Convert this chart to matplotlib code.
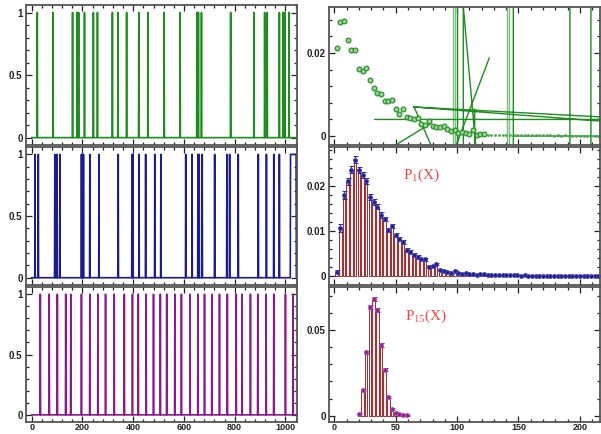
import numpy as np
import matplotlib.pyplot as plt
from matplotlib.ticker import MultipleLocator, FuncFormatter

plt.rcParams['font.family'] = ['Liberation Sans Narrow', 'Liberation Sans', 'DejaVu Sans']

# ---- binary sequences (left column) ----
n_steps = 1046
green_spikes = [22, 84, 161, 179, 185, 208, 243, 259, 318, 340, 374, 422, 458, 522, 585,
                651, 657, 669, 784, 876, 918, 928, 976, 991, 997, 1014]
blue_spikes = [13, 26, 91, 100, 111, 196, 200, 204, 229, 265, 341, 395, 399, 423, 449, 485,
               509, 607, 632, 655, 660, 672, 721, 769, 780, 814, 893, 925, 954, 976]
blue_runs = [(1020, 1042)]
purple_spikes = [34, 69, 101, 134, 154, 196, 229, 261, 291, 325, 365, 397, 420, 451, 480, 507,
                 532, 564, 590, 624, 655, 681, 710, 740, 771, 806, 829, 862, 891, 924, 954,
                 1000, 1030]

# ---- distributions (right column) ----
# top-right: green points
g_x = list(range(2, 123, 3))
g_y = [0.02119, 0.02751, 0.02782, 0.02311, 0.02063, 0.02079, 0.01624, 0.01576, 0.0164,
       0.01344, 0.01152, 0.01032, 0.01008, 0.00848, 0.00856, 0.0088, 0.00648, 0.0052,
       0.0064, 0.00456, 0.00432, 0.004, 0.00432, 0.0028, 0.00264, 0.00352, 0.00233,
       0.00217, 0.00209, 0.00249, 0.00177, 0.00113, 0.00145, 0.00081, 0.00105, 0.00081,
       0.00049, 0.00137, 0.00025, 0.00057, 0.00057]
g_tail_x = list(range(125, 216, 3))
g_tail_y = [0.0003, 0.00035, 0.0003, 0.00025, 0.0003, 0.00025, 0.0002, 0.00025, 0.0002,
            0.0002, 0.00025, 0.0002, 0.00015, 0.0002, 0.00015, 0.0002, 0.00015, 0.00015,
            0.0001, 0.00015, 0.0001, 0.00015, 0.0001, 0.0001, 0.0001, 0.0001, 0.00008,
            0.0001, 0.00008, 0.00008, 0.00008]
nan = np.nan
glitch_x = [33, 230, nan, 65, 230, nan, 65, 230, nan, 65, 81.5, nan, 48, 78.5, nan,
            97, 126.2, nan, 102.4, 115.7, nan, 100.4, 100.4, nan, 105.1, 105.1, nan,
            114.3, 114.3, nan, 145.8, 145.8, nan, 191.9, 191.9, nan, 209, 209, nan,
            145.8, 230]
glitch_y = [0.004, 0.004, nan, 0.0070, 0.0044, nan, 0.0070, 0.0033, nan, 0.0070, -0.004, nan,
            -0.0025, 0.0030, nan, -0.004, 0.0188, nan, 0.04, -0.004, nan, -0.004, 0.04, nan,
            -0.004, 0.04, nan, -0.004, 0.0065, nan, -0.004, 0.04, nan, -0.004, 0.04, nan,
            -0.004, 0.04, nan, 0.0, 0.0]
glitch_light_x = [96.9, 96.9, nan, 98.3, 98.3, nan, 140.9, 140.9, nan, 142.3, 142.3]
glitch_light_y = [-0.004, 0.04, nan, -0.004, 0.04, nan, -0.004, 0.04, nan, -0.004, 0.04]

# middle-right: P1(X)
p1_x = list(range(2, 216, 3))
p1_y = [0.00102, 0.01062, 0.01794, 0.02102, 0.02358, 0.0258, 0.02344, 0.02234, 0.02102,
        0.0175, 0.0164, 0.01538, 0.01355, 0.01259, 0.01018, 0.01105, 0.00915, 0.0082,
        0.00754, 0.00578, 0.00541, 0.00468, 0.00417, 0.0038, 0.00373, 0.00212, 0.00226,
        0.0027, 0.00138, 0.00124, 0.00102, 0.00073, 0.00109, 0.00073, 0.00051, 0.00066,
        0.00044, 0.00037, 0.0003, 0.00037, 0.00037, 0.0003,
        0.0003, 0.00025, 0.0002, 0.00022, 0.00018, 0.00015, 0.0002, 0.00015, 0.00012,
        0.00015, 0.00012, 0.0001, 0.00012, 0.0001, 0.00008, 0.0001, 0.00008, 0.0001,
        0.00008, 0.00006, 0.00008, 0.00006, 0.00008, 0.00006, 0.00005, 0.00006, 0.00005,
        0.00006, 0.00005, 0.00004]
p1_err = [0.0003, 0.0009, 0.0008, 0.0008, 0.0008, 0.0007, 0.0007, 0.0007, 0.0007, 0.0006,
          0.0006, 0.0006, 0.0006, 0.0005, 0.0005, 0.0005, 0.0005, 0.0005, 0.0004, 0.0004,
          0.0004, 0.0004, 0.0004, 0.0003, 0.0003, 0.0003, 0.0003, 0.0003, 0.0003, 0.0002,
          0.0002, 0.0002, 0.0002, 0.0002, 0.0002, 0.0002, 0.00015, 0.00015, 0.00015,
          0.00015, 0.00015, 0.00015] + [0.0001] * 30

# bottom-right: P15(X)
p15_x = list(range(20, 60, 3))
p15_y = [0.0012, 0.0150, 0.0370, 0.0632, 0.0680, 0.0615, 0.0412, 0.0268, 0.0108, 0.0040,
         0.0017, 0.0012, 0.0005, 0.0003]
p15_err = [0.0004, 0.0008, 0.0010, 0.0012, 0.0013, 0.0012, 0.0010, 0.0009, 0.0006, 0.0004,
           0.0003, 0.0003, 0.0002, 0.0002]

W, H = 601, 434


def box(x0, y0, x1, y1):
    return [x0 / W, 1 - y1 / H, (x1 - x0) / W, (y1 - y0) / H]


def fmt(v, pos):
    return '%g' % round(v, 6)


def style(ax, xmaj, xmin, ymaj, ymin, xlabels):
    ax.xaxis.set_major_locator(MultipleLocator(xmaj))
    ax.xaxis.set_minor_locator(MultipleLocator(xmin))
    ax.yaxis.set_major_locator(MultipleLocator(ymaj))
    ax.yaxis.set_minor_locator(MultipleLocator(ymin))
    ax.yaxis.set_major_formatter(FuncFormatter(fmt))
    ax.xaxis.set_major_formatter(FuncFormatter(fmt))
    ax.tick_params(which='both', direction='in', top=True, right=True, width=0.9,
                   colors='#222222', labelsize=7, pad=2.5)
    ax.tick_params(axis='x', pad=1.2, labelsize=6.5)
    ax.tick_params(which='major', length=4.5)
    ax.tick_params(which='minor', length=2.2)
    if not xlabels:
        ax.tick_params(labelbottom=False)
    for lab in ax.get_xticklabels() + ax.get_yticklabels():
        lab.set_fontweight('bold')
    for s in ax.spines.values():
        s.set_color('#555555')
        s.set_linewidth(1.3)


fig = plt.figure(figsize=(6.01, 4.34), dpi=100)

left_boxes = [(26, 5, 297, 144.5), (26, 147, 297, 284.5), (26, 287, 297, 421.5)]
right_boxes = [(329, 7, 600, 145), (329, 147, 600, 284.5), (329, 287, 600, 421.5)]

seqs = []
for spikes, runs in [(green_spikes, []), (blue_spikes, blue_runs), (purple_spikes, [])]:
    s = np.zeros(n_steps)
    s[spikes] = 1
    for a, b in runs:
        s[a:b + 1] = 1
    seqs.append(s)
colors = ['#1e8c1e', '#1c1c8c', '#8c1a8c']

t = np.arange(n_steps)
for i, (b, s, c) in enumerate(zip(left_boxes, seqs, colors)):
    ax = fig.add_axes(box(*b))
    ax.plot(t, s, color=c, lw=1.2)
    ax.set_xlim(-22.5, 1045.5)
    ax.set_ylim(-0.055, 1.06)
    style(ax, 200, 40, 0.5, 0.1, i == 2)

# top right
ax = fig.add_axes(box(*right_boxes[0]))
ax.plot(glitch_light_x, glitch_light_y, color='#7cc27c', lw=1.0)
ax.plot(glitch_x, glitch_y, color='#1e8c1e', lw=1.0)
ax.plot(g_x, g_y, 'o', ms=3.4, mfc='#9ad49a', mec='#2a922a', mew=0.9)
ax.plot(g_tail_x, g_tail_y, '.', ms=2.0, color='#4aa84a')
ax.set_xlim(-4.3, 216.4)
ax.set_ylim(-0.00216, 0.0311)
style(ax, 50, 10, 0.02, 0.004, False)

# middle right
ax = fig.add_axes(box(*right_boxes[1]))
ax.bar(p1_x, p1_y, width=2.1, color='#fbeeee', edgecolor='#8a1010', linewidth=0.6)
ax.errorbar(p1_x, p1_y, yerr=p1_err, fmt='o', ms=2.8, mfc='#1c1c8c', mec='#4848b8',
            mew=0.7, ecolor='#2a2a9a', elinewidth=0.8, capsize=1.8, capthick=0.8)
ax.text(56, 0.0215, r'P$_{\mathregular{1}}$(X)', color='#f04848', fontsize=11,
        family=['Liberation Serif', 'DejaVu Serif'])
ax.set_xlim(-4.3, 216.4)
ax.set_ylim(-0.00185, 0.02857)
style(ax, 50, 10, 0.01, 0.002, False)

# bottom right
ax = fig.add_axes(box(*right_boxes[2]))
ax.bar(p15_x, p15_y, width=2.1, color='#fbeeee', edgecolor='#8a1010', linewidth=0.6)
ax.errorbar(p15_x, p15_y, yerr=p15_err, fmt='o', ms=2.8, mfc='#8c1a8c', mec='#b050b0',
            mew=0.7, ecolor='#8c1a8c', elinewidth=0.8, capsize=1.8, capthick=0.8)
ax.text(57.5, 0.056, r'P$_{\mathregular{15}}$(X)', color='#f04848', fontsize=11,
        family=['Liberation Serif', 'DejaVu Serif'])
ax.set_xlim(-4.3, 216.4)
ax.set_ylim(-0.0033, 0.075)
style(ax, 50, 10, 0.05, 0.01, True)

fig.savefig('out.png', dpi=100)
